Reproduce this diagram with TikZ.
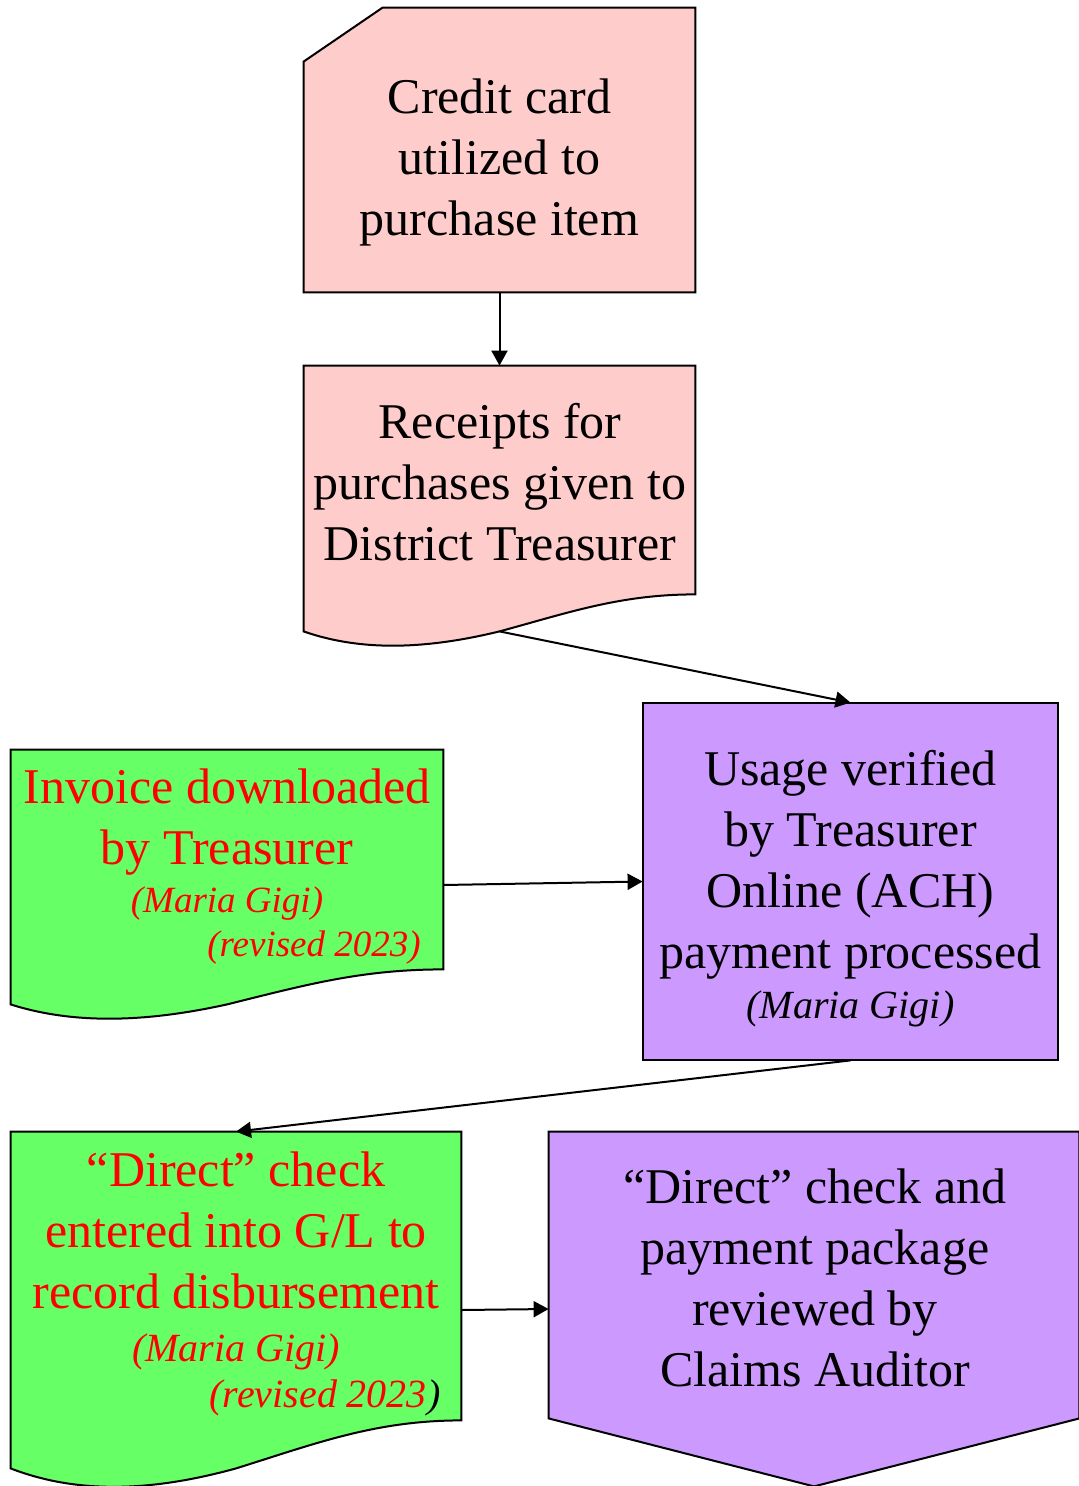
\documentclass[tikz,border=0pt]{standalone}
\usepackage{fontspec}
\setmainfont{Liberation Serif}
\usetikzlibrary{calc,arrows.meta}
\definecolor{cardpink}{HTML}{FFCCCC}
\definecolor{stepviolet}{HTML}{CC99FF}
\definecolor{docgreen}{HTML}{66FF66}
\newcommand{\byline}[2][20]{{\fontsize{#1}{24}\selectfont\itshape #2}}

\begin{document}
\begin{tikzpicture}[x=0.5pt, y=-0.5pt,
  shp/.style = {draw=none, inner sep=0pt},
  outl/.style = {draw, line width=1pt, line join=miter},
  txt/.style = {align=center, inner sep=0pt, font=\fontsize{25}{30.5}\selectfont},
  arr/.style = {-{Triangle[length=7.5pt,width=8pt]}, line width=1pt}]

\useasboundingbox (0,0) rectangle (1079,1486);

%shapes
\node[shp, minimum width=195.5pt, minimum height=142pt] (card) at (499.5,150) {};
\node[shp, minimum width=195.5pt, minimum height=140pt] (rcpt) at (499.5,506) {};
\node[shp, minimum width=207.5pt, minimum height=178.5pt] (usage) at (850.5,881.5) {};
\node[shp, minimum width=216pt, minimum height=135pt] (inv) at (227,885) {};
\node[shp, minimum width=225pt, minimum height=178pt] (chk) at (236,1310) {};
\node[shp, minimum width=265pt, minimum height=177pt] (audit) at (814,1309) {};

%outlines
\draw[outl, fill=cardpink] (card.south west) -- ($(card.north west)+(0,54)$)
  -- ($(card.north west)+(79,0)$) -- (card.north east) -- (card.south east) -- cycle;
\draw[outl, fill=cardpink] (rcpt.north west) -- (rcpt.north east) -- ($(rcpt.south east)+(0,-52)$)
  .. controls +(-75,0) and +(70,-19) .. ($(rcpt.south)+(0,-15)$)
  .. controls +(-70,17) and +(60,21) .. ($(rcpt.south west)+(0,-15)$) -- cycle;
\draw[outl, fill=stepviolet] (usage.north west) rectangle (usage.south east);
\draw[outl, fill=docgreen] (inv.north west) -- (inv.north east) -- ($(inv.south east)+(0,-51)$)
  .. controls +(-83,0) and +(77,-19) .. ($(inv.south)+(0,-16)$)
  .. controls +(-77,17) and +(66,21) .. ($(inv.south west)+(0,-16)$) -- cycle;
\draw[outl, fill=docgreen] (chk.north west) -- (chk.north east) -- ($(chk.south east)+(0,-68)$)
  .. controls +(-86,0) and +(80,-25) .. ($(chk.south)+(0,-20)$)
  .. controls +(-80,22) and +(70,27) .. ($(chk.south west)+(0,-20)$) -- cycle;
\draw[outl, fill=stepviolet] (audit.north west) -- (audit.north east) -- ($(audit.south east)+(0,-68)$)
  -- (audit.south) -- ($(audit.south west)+(0,-68)$) -- cycle;

%texts
\node[txt] (cardtxt) at (499.5,162) {Credit card\\utilized to\\purchase item};
\node[txt] (rcpttxt) at (500,482) {Receipts for\\purchases given to\\District Treasurer};
\node[txt] (usagetxt) at (850.5,888.5) {Usage verified\\by Treasurer\\Online (ACH)\\payment processed\\[-5.5pt]\byline{(Maria Gigi)}};
\node[txt, text=red] (invtxt) at (227,867) {Invoice downloaded\\by Treasurer\\[-6.5pt]\byline[18.5]{(Maria Gigi)}\\[-8.5pt]\hspace*{87pt}\byline[18.5]{(revised 2023)}};
\node[txt, text=red] (chktxt) at (236,1283.5) {``Direct'' check\\entered into G/L to\\record disbursement\\[-4pt]\byline{(Maria Gigi)}\\[-7.5pt]\hspace*{89pt}\byline{(revised 2023\textcolor{black}{)}}};
\node[txt] (audittxt) at (815,1278) {``Direct'' check and\\payment package\\reviewed by\\Claims Auditor};

%flow
\draw[arr] (card.south) -- (rcpt.north);
\draw[arr] ($(rcpt.south)+(0,-15)$) -- (usage.north);
\draw[arr] (inv.east) -- (usage.west);
\draw[arr] (usage.south) -- (chk.north);
\draw[arr] (chk.east) -- (audit.west);
\end{tikzpicture}
\end{document}
